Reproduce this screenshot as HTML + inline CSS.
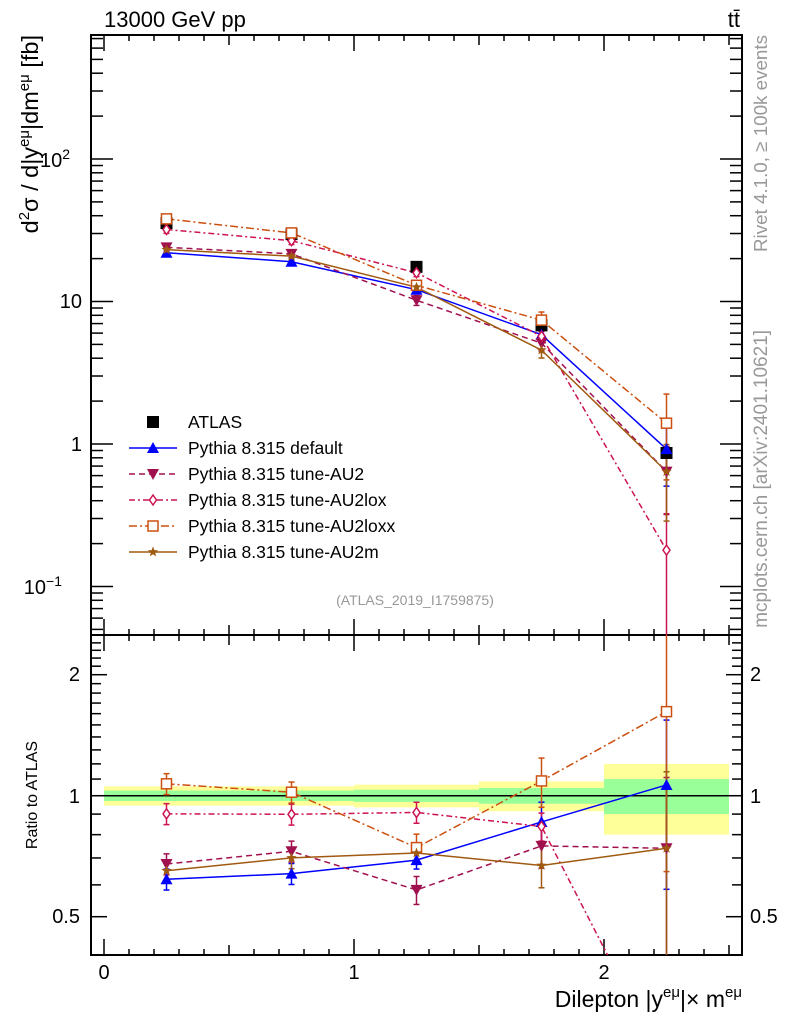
<!DOCTYPE html>
<html><head><meta charset="utf-8"><style>
html,body{margin:0;padding:0;width:786px;height:1024px;background:#fff;font-family:"Liberation Sans",sans-serif;overflow:hidden}
svg{display:block}
svg text{font-family:"Liberation Sans","DejaVu Sans",sans-serif}
</style></head><body>
<svg id="chart" width="786" height="1024" xmlns="http://www.w3.org/2000/svg">
<defs>
<clipPath id="cm"><rect x="91" y="35" width="651" height="600"/></clipPath>
<clipPath id="cr"><rect x="91" y="635" width="651" height="320"/></clipPath>
</defs>
<g id="bands"></g>
<g id="axes"></g>
<g id="mainplot" clip-path="url(#cm)"></g>
<g id="ratioplot" clip-path="url(#cr)"></g>
<g id="legend"></g>
<text x="104" y="27" font-size="22">13000 GeV pp</text>
<text x="740" y="27" font-size="22" text-anchor="end">tt̄</text>
<text x="415" y="605" font-size="14" text-anchor="middle" fill="#999">(ATLAS_2019_I1759875)</text>
<text transform="translate(38,35) rotate(-90)" font-size="23.5" text-anchor="end">d<tspan dy="-9" font-size="15">2</tspan><tspan dy="9">σ / d|y</tspan><tspan dy="-9" font-size="15">eμ</tspan><tspan dy="9">|dm</tspan><tspan dy="-9" font-size="15">eμ</tspan><tspan dy="9"> [fb]</tspan></text>
<text transform="translate(37,795) rotate(-90)" font-size="16" text-anchor="middle">Ratio to ATLAS</text>
<text x="742" y="1007" font-size="23" text-anchor="end">Dilepton |y<tspan dy="-10" font-size="15">eμ</tspan><tspan dy="10">|× m</tspan><tspan dy="-10" font-size="15">eμ</tspan></text>
<text transform="translate(767,35) rotate(-90)" font-size="18.8" text-anchor="end" fill="#999">Rivet 4.1.0, ≥ 100k events</text>
<text transform="translate(767,330) rotate(-90)" font-size="19" text-anchor="end" fill="#999">mcplots.cern.ch [arXiv:2401.10621]</text>
<text x="82" y="308" font-size="20" text-anchor="end">10</text>
<text x="82" y="451" font-size="20" text-anchor="end">1</text>
<text x="70" y="167" font-size="20" text-anchor="end">10<tspan dy="-8" font-size="14">2</tspan></text>
<text x="62" y="594" font-size="20" text-anchor="end">10<tspan dy="-8" font-size="14">−1</tspan></text>
<text x="80" y="681" font-size="20" text-anchor="end">2</text>
<text x="80" y="803" font-size="20" text-anchor="end">1</text>
<text x="80" y="923" font-size="20" text-anchor="end">0.5</text>
<text x="750" y="681" font-size="20">2</text>
<text x="750" y="803" font-size="20">1</text>
<text x="750" y="923" font-size="20">0.5</text>
<text x="104" y="979" font-size="20" text-anchor="middle">0</text>
<text x="354" y="979" font-size="20" text-anchor="middle">1</text>
<text x="604" y="979" font-size="20" text-anchor="middle">2</text>
<text x="188" y="428" font-size="17.5">ATLAS</text>
<text x="188" y="454" font-size="17.5">Pythia 8.315 default</text>
<text x="188" y="480" font-size="17.5">Pythia 8.315 tune-AU2</text>
<text x="188" y="506" font-size="17.5">Pythia 8.315 tune-AU2lox</text>
<text x="188" y="532" font-size="17.5">Pythia 8.315 tune-AU2loxx</text>
<text x="188" y="558" font-size="17.5">Pythia 8.315 tune-AU2m</text>
</svg>
<script>
var binCenters=[0.25,0.75,1.25,1.75,2.25];
var binEdges=[0,0.5,1,1.5,2,2.5];
var atlas=[35.5,29.7,17.5,6.8,0.865];
var bandYellow=[0.055,0.055,0.065,0.085,0.2];
var bandGreen=[0.03,0.03,0.035,0.045,0.1];
var mcDefault=[22.0,19.0,12.1,5.85,0.92];
var mcAU2=[24.0,21.6,10.2,5.1,0.64];
var mcAU2lox=[32.0,26.7,15.9,5.7,0.18];
var mcAU2loxx=[38.0,30.3,13.0,7.4,1.40];
var mcAU2m=[23.1,20.8,12.6,4.56,0.64];
var errDefault=[0.06,0.06,0.05,0.12,0.45];
var errAU2=[0.06,0.06,0.08,0.12,0.5];
var errAU2lox=[0.06,0.06,0.06,0.08,0.8];
var errAU2loxx=[0.06,0.06,0.08,0.14,0.6];
var errAU2m=[0.06,0.06,0.06,0.12,0.55];

var SVGNS="http://www.w3.org/2000/svg";
var PL=91,PR=742,PT=35,PM=635,PB=955;
function sx(v){return 104+v*250;}
function sy(v){return 444-142.5*Math.log(v)/Math.LN10;}
function sr(v){return 795.7-121*Math.log(v)/Math.LN2;}
function mk(tag,attrs,parent){var e=document.createElementNS(SVGNS,tag);for(var k in attrs){e.setAttribute(k,attrs[k]);}parent.appendChild(e);return e;}
var gBands=document.getElementById('bands');
var gAxes=document.getElementById('axes');
var gMain=document.getElementById('mainplot');
var gRatio=document.getElementById('ratioplot');
var gLeg=document.getElementById('legend');

try{
for(var i=0;i<5;i++){
  var x0=sx(binEdges[i]),w=sx(binEdges[i+1])-x0;
  var r1=mk('rect',{x:x0,y:sr(1+bandYellow[i]),width:w,height:sr(1-bandYellow[i])-sr(1+bandYellow[i]),fill:'#ffff99'},gBands);
  
  
  var r2=mk('rect',{x:x0,y:sr(1+bandGreen[i]),width:w,height:sr(1-bandGreen[i])-sr(1+bandGreen[i]),fill:'#99ff99'},gBands);
  
  
}
var ref=mk('line',{x1:PL,x2:PR,y1:sr(1),y2:sr(1),stroke:'#000','stroke-width':1.5},gBands);


}catch(err){}

try{
var f1=mk('rect',{x:PL,y:PT,width:PR-PL,height:PM-PT,fill:'none',stroke:'#000','stroke-width':2},gAxes);


var f2=mk('rect',{x:PL,y:PM,width:PR-PL,height:PB-PM,fill:'none',stroke:'#000','stroke-width':2},gAxes);


for(var k=0;k<=25;k++){
  var xx=sx(k*0.1);
  var len=(k%10==0)?16:((k%5==0)?10:6);
  mk('line',{x1:xx,x2:xx,y1:PT,y2:PT+len,stroke:'#000','stroke-width':1.5},gAxes);
  mk('line',{x1:xx,x2:xx,y1:PM,y2:PM-len,stroke:'#000','stroke-width':1.5},gAxes);
  mk('line',{x1:xx,x2:xx,y1:PM,y2:PM+len,stroke:'#000','stroke-width':1.5},gAxes);
  mk('line',{x1:xx,x2:xx,y1:PB,y2:PB-len,stroke:'#000','stroke-width':1.5},gAxes);
}
for(var e=-2;e<=2;e++){for(var m=1;m<=9;m++){
  var v=m*Math.pow(10,e);var yy=sy(v);if(yy<PT||yy>PM)continue;var ln=(m==1)?22:12;
  mk('line',{x1:PL,x2:PL+ln,y1:yy,y2:yy,stroke:'#000','stroke-width':1.5},gAxes);
  mk('line',{x1:PR,x2:PR-ln,y1:yy,y2:yy,stroke:'#000','stroke-width':1.5},gAxes);
}}
var rt=[0.5,0.6,0.7,0.8,0.9,1,1.1,1.2,1.3,1.4,1.5,1.6,1.7,1.8,1.9,2,2.1,2.2,2.3,2.4];
for(var j=0;j<rt.length;j++){
  var yr=sr(rt[j]);var big=(rt[j]==0.5||rt[j]==1||rt[j]==2);var lr=big?16:10;
  mk('line',{x1:PL,x2:PL+lr,y1:yr,y2:yr,stroke:'#000','stroke-width':1.5},gAxes);
  mk('line',{x1:PR,x2:PR-lr,y1:yr,y2:yr,stroke:'#000','stroke-width':1.5},gAxes);
}
}catch(err){}

var series=[
 {name:'default',vals:mcDefault,err:errDefault,color:'#0000ff',dash:'none',marker:'tri-up'},
 {name:'au2',vals:mcAU2,err:errAU2,color:'#a0104f',dash:'6,4',marker:'tri-down'},
 {name:'au2lox',vals:mcAU2lox,err:errAU2lox,color:'#cc1450',dash:'6,3,2,3',marker:'diamond'},
 {name:'au2loxx',vals:mcAU2loxx,err:errAU2loxx,color:'#cc5010',dash:'8,3,2,3',marker:'square'},
 {name:'au2m',vals:mcAU2m,err:errAU2m,color:'#a05a10',dash:'none',marker:'star'}];

function drawMarker(type,x,y,c,parent,nm){
 var el;
 if(type=='tri-up'){el=mk('polygon',{points:x+','+(y-6)+' '+(x-6)+','+(y+5)+' '+(x+6)+','+(y+5),fill:c},parent);}
 else if(type=='tri-down'){el=mk('polygon',{points:x+','+(y+6)+' '+(x-6)+','+(y-5)+' '+(x+6)+','+(y-5),fill:c},parent);}
 else if(type=='diamond'){el=mk('polygon',{points:x+','+(y-5)+' '+(x-3.5)+','+y+' '+x+','+(y+5)+' '+(x+3.5)+','+y,fill:'#fff',stroke:c,'stroke-width':1.5},parent);}
 else if(type=='square'){el=mk('rect',{x:x-5,y:y-5,width:10,height:10,fill:'#fff',stroke:c,'stroke-width':1.5},parent);}
 else if(type=='star'){var p=[];for(var q=0;q<10;q++){var rr=(q%2)?2.3:5.5;var a=-Math.PI/2+q*Math.PI/5;p.push((x+rr*Math.cos(a)).toFixed(1)+','+(y+rr*Math.sin(a)).toFixed(1));}el=mk('polygon',{points:p.join(' '),fill:c},parent);}
 else {el=mk('rect',{x:x-6,y:y-6,width:12,height:12,fill:c},parent);}
 
 
 return el;
}
function errBar(parent,x,ylo,yhi,c){
 mk('line',{x1:x,x2:x,y1:ylo,y2:yhi,stroke:c,'stroke-width':1.5},parent);
 mk('line',{x1:x-3,x2:x+3,y1:yhi,y2:yhi,stroke:c,'stroke-width':1.5},parent);
 mk('line',{x1:x-3,x2:x+3,y1:ylo,y2:ylo,stroke:c,'stroke-width':1.5},parent);
}

try{
series.forEach(function(s){
 var ptsM=[],ptsR=[];
 for(var i=0;i<s.vals.length;i++){ptsM.push(sx(binCenters[i])+','+sy(s.vals[i]));ptsR.push(sx(binCenters[i])+','+sr(s.vals[i]/atlas[i]));}
 var attrs={points:ptsM.join(' '),fill:'none',stroke:s.color,'stroke-width':1.5};
 if(s.dash!='none')attrs['stroke-dasharray']=s.dash;
 var pl=mk('polyline',attrs,gMain);
 
 
 attrs.points=ptsR.join(' ');
 var pr=mk('polyline',attrs,gRatio);
 
 
 for(var i=0;i<s.vals.length;i++){
  var x=sx(binCenters[i]),v=s.vals[i],e=s.err[i],r=v/atlas[i];
  errBar(gMain,x,sy(Math.max(v*(1-e),1e-3)),sy(v*(1+e)),s.color);
  errBar(gRatio,x,sr(Math.max(r*(1-e),1e-3)),sr(r*(1+e)),s.color);
 }
});
for(var i=0;i<atlas.length;i++){drawMarker('sq',sx(binCenters[i]),sy(atlas[i]),'#000',gMain,'atlas-point');}
series.forEach(function(s){
 for(var i=0;i<s.vals.length;i++){
  drawMarker(s.marker,sx(binCenters[i]),sy(s.vals[i]),s.color,gMain,s.name+'-point');
  drawMarker(s.marker,sx(binCenters[i]),sr(s.vals[i]/atlas[i]),s.color,gRatio,s.name+'-ratio-point');
 }
});
}catch(err){}

try{
drawMarker('sq',153,422,'#000',gLeg,'legend-marker-atlas');
for(var n=0;n<series.length;n++){
 var s=series[n];var y=448+26*n;
 var la={x1:129,x2:177,y1:y,y2:y,stroke:s.color,'stroke-width':1.5};
 if(s.dash!='none')la['stroke-dasharray']=s.dash;
 var ll=mk('line',la,gLeg);
 
 
 drawMarker(s.marker,153,y,s.color,gLeg,'legend-marker');
}
}catch(err){}
</script>
</body></html>
